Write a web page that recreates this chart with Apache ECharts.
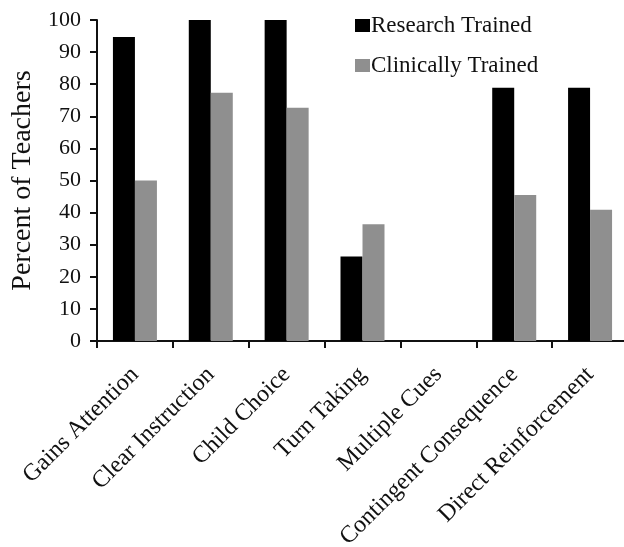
<!DOCTYPE html>
<html><head><meta charset="utf-8">
<script src="https://cdn.jsdelivr.net/npm/echarts@6/dist/echarts.min.js"></script>
<style>html,body{margin:0;padding:0;background:#fff}#c{width:624px;height:547px}</style>
</head><body><div id="c"></div>
<script>
const categories = ["Gains Attention","Clear Instruction","Child Choice","Turn Taking","Multiple Cues","Contingent Consequence","Direct Reinforcement"];
const researchTrained = [94.7, 100, 100, 26.3, 0, 78.9, 78.9];
const clinicallyTrained = [50, 77.3, 72.7, 36.4, 0, 45.5, 40.9];
const seriesNames = ["Research Trained","Clinically Trained"];
const yTicks = {min:0, max:100, interval:10};

const font = "'Liberation Serif', 'Times New Roman', serif";
const chart = echarts.init(document.getElementById('c'), null, {renderer:'canvas'});
chart.setOption({
  animation:false,
  backgroundColor:'#fff',
  textStyle:{fontFamily:font},
  legend:{
    orient:'vertical', left:350, top:9, itemWidth:15, itemHeight:13, itemGap:17,
    icon:'rect',
    textStyle:{fontFamily:font, fontSize:23, color:'#111', padding:[0,0,0,-4]},
    data:seriesNames
  },
  grid:{left:97, right:-4, top:20, bottom:206, containLabel:false, outerBoundsMode:'none'},
  xAxis:{
    type:'category', data:categories,
    axisLine:{lineStyle:{color:'#111', width:2}},
    axisTick:{show:true, length:7, lineStyle:{color:'#111', width:2}},
    axisLabel:{rotate:45, fontFamily:font, fontSize:24, color:'#111', margin:30, interval:0}
  },
  yAxis:{
    type:'value', min:yTicks.min, max:yTicks.max, interval:yTicks.interval,
    name:'Percent of Teachers', nameLocation:'middle', nameGap:59, nameRotate:90,
    nameTextStyle:{fontFamily:font, fontSize:28, color:'#111'},
    splitLine:{show:false},
    axisLine:{show:true, lineStyle:{color:'#111', width:2}},
    axisTick:{show:true, length:7, lineStyle:{color:'#111', width:2}},
    axisLabel:{fontFamily:font, fontSize:22, color:'#111', margin:16}
  },
  series:[
    {name:seriesNames[0], type:'bar', data:researchTrained, barGap:'0%', barCategoryGap:'42%', itemStyle:{color:'#000'}},
    {name:seriesNames[1], type:'bar', data:clinicallyTrained, barGap:'0%', barCategoryGap:'42%', itemStyle:{color:'#8f8f8f'}}
  ]
});
</script></body></html>
